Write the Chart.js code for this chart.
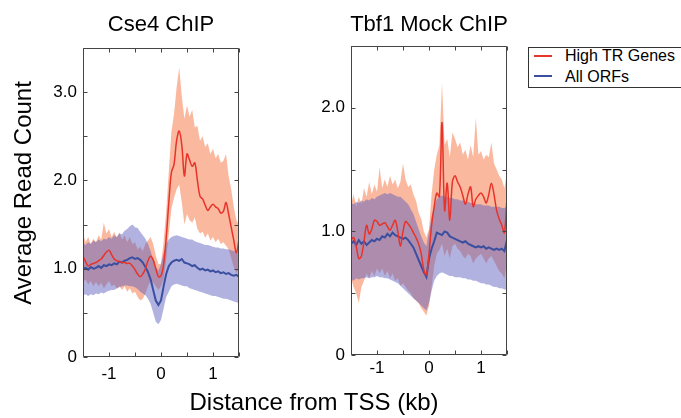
<!DOCTYPE html>
<html>
<head>
<meta charset="utf-8">
<script src="https://cdn.jsdelivr.net/npm/chart.js@4/dist/chart.umd.min.js"></script>
<style>
  html, body { margin: 0; padding: 0; background: #fff; }
  body { width: 681px; height: 418px; position: relative; overflow: hidden; font-family: "Liberation Sans", Arial, sans-serif; color: #000; }
  .box { position: absolute; }
  .txt { position: absolute; white-space: nowrap; }
  .title { font-size: 22px; line-height: 22px; text-align: center; width: 240px; }
  .axis { font-size: 24px; line-height: 24px; text-align: center; }
  #legend { position: absolute; left: 528px; top: 47px; width: 170px; height: 39px; border: 1px solid #333; }
  .sw { position: absolute; left: 5px; width: 18px; height: 0; border-top: 2px solid; }
  .lt { position: absolute; left: 36px; font-size: 16px; line-height: 16px; }
</style>
</head>
<body>
<div class="box" style="left:0;top:0;width:250px;height:390px;"><canvas id="cse4"></canvas></div>
<div class="box" style="left:260px;top:0;width:260px;height:390px;"><canvas id="tbf1"></canvas></div>

<div class="txt title" style="left:41px;top:13px;">Cse4 ChIP</div>
<div class="txt title" style="left:309px;top:13px;">Tbf1 Mock ChIP</div>
<div class="txt axis" style="left:-127px;top:181px;width:300px;transform:rotate(-90deg);">Average Read Count</div>
<div class="txt axis" style="left:114px;top:390px;width:400px;">Distance from TSS (kb)</div>
<div id="legend">
  <div class="sw" style="top:7px;border-color:#e8332b;"></div>
  <div class="lt" style="top:0px;">High TR Genes</div>
  <div class="sw" style="top:27px;border-color:#3a4fa0;"></div>
  <div class="lt" style="top:21px;">All ORFs</div>
</div>

<script>
// distance from TSS (kb)
const distKb = [-1.5,-1.45,-1.4,-1.35,-1.3,-1.25,-1.2,-1.15,-1.1,-1.05,-1.0,-0.95,-0.9,-0.85,-0.8,-0.75,-0.7,-0.65,-0.6,-0.55,-0.5,-0.45,-0.4,-0.35,-0.3,-0.25,-0.2,-0.15,-0.1,-0.05,
  0.0,0.05,0.1,0.15,0.2,0.25,0.3,0.35,0.4,0.45,0.5,0.55,0.6,0.65,0.7,0.75,0.8,0.85,0.9,0.95,1.0,1.05,1.1,1.15,1.2,1.25,1.3,1.35,1.4,1.45,1.5];

// Cse4 ChIP
const cse4HighTR = [1.14,1.08,1.03,1.05,1.06,1.07,1.09,1.11,1.15,1.19,1.21,1.16,1.11,1.09,1.08,1.07,1.07,1.06,1.06,1.03,0.99,0.94,0.91,0.94,1.00,1.09,1.14,1.10,1.00,0.91,
  0.92,1.05,1.35,1.75,2.09,2.18,2.45,2.56,2.40,2.05,2.30,2.23,2.16,2.20,2.00,1.82,1.79,1.72,1.66,1.70,1.73,1.70,1.68,1.63,1.65,1.75,1.62,1.47,1.32,1.18,1.33];
const cse4HighTRUp = [1.40,1.30,1.36,1.28,1.34,1.30,1.38,1.33,1.52,1.40,1.45,1.36,1.42,1.35,1.41,1.33,1.38,1.30,1.36,1.28,1.30,1.22,1.25,1.20,1.28,1.32,1.36,1.28,1.15,1.05,
  1.06,1.30,1.65,2.10,2.55,2.75,3.05,3.28,2.95,2.70,2.85,2.72,2.80,2.60,2.62,2.45,2.50,2.38,2.42,2.30,2.36,2.25,2.30,2.20,2.22,2.30,2.05,1.90,1.70,1.55,1.50];
const cse4HighTRLo = [0.84,0.88,0.82,0.86,0.80,0.85,0.80,0.84,0.78,0.82,0.86,0.80,0.82,0.77,0.80,0.76,0.80,0.74,0.78,0.72,0.74,0.68,0.64,0.66,0.72,0.80,0.86,0.84,0.80,0.76,
  0.80,0.88,1.10,1.40,1.68,1.80,1.90,1.95,1.75,1.50,1.62,1.55,1.52,1.58,1.45,1.40,1.42,1.35,1.40,1.32,1.36,1.30,1.34,1.28,1.30,1.26,1.22,1.12,1.02,0.95,1.00];
const cse4AllORF = [1.00,1.01,0.99,1.02,1.00,1.01,1.03,1.01,1.04,1.03,1.05,1.04,1.06,1.05,1.08,1.07,1.09,1.10,1.12,1.13,1.11,1.12,1.10,1.07,1.02,0.96,0.88,0.76,0.64,0.59,
  0.64,0.80,0.94,1.03,1.07,1.09,1.10,1.09,1.11,1.07,1.06,1.05,1.03,1.04,1.01,0.99,1.00,0.98,0.99,0.97,0.98,0.96,0.97,0.95,0.96,0.94,0.95,0.93,0.92,0.93,0.91];
const cse4AllORFUp = [1.29,1.27,1.30,1.28,1.32,1.30,1.33,1.31,1.34,1.33,1.36,1.34,1.38,1.36,1.40,1.39,1.43,1.45,1.48,1.50,1.47,1.46,1.42,1.38,1.34,1.28,1.20,1.10,1.02,0.98,
  1.05,1.18,1.28,1.33,1.36,1.37,1.38,1.37,1.36,1.35,1.34,1.33,1.33,1.31,1.30,1.29,1.28,1.27,1.27,1.26,1.25,1.24,1.24,1.23,1.23,1.22,1.22,1.21,1.20,1.19,1.18];
const cse4AllORFLo = [0.70,0.71,0.69,0.71,0.70,0.72,0.71,0.73,0.72,0.74,0.75,0.76,0.76,0.78,0.79,0.80,0.81,0.81,0.80,0.80,0.79,0.77,0.74,0.72,0.70,0.66,0.60,0.50,0.40,0.37,
  0.42,0.55,0.68,0.74,0.80,0.82,0.83,0.82,0.81,0.80,0.80,0.78,0.77,0.76,0.75,0.74,0.73,0.72,0.71,0.70,0.69,0.69,0.68,0.67,0.66,0.66,0.65,0.64,0.63,0.62,0.61];

// Tbf1 Mock ChIP
const tbf1HighTR = [0.93,0.95,0.88,0.78,0.80,0.92,1.05,0.98,1.02,1.09,1.08,1.05,1.06,1.07,1.04,1.01,1.05,1.09,1.00,0.88,1.00,1.08,1.06,1.03,0.99,0.95,0.90,0.82,0.69,0.65,
  0.82,1.05,1.20,1.31,1.28,1.88,1.17,1.39,1.09,1.40,1.45,1.40,1.36,1.29,1.22,1.30,1.36,1.20,1.26,1.29,1.31,1.28,1.23,1.30,1.39,1.30,1.17,1.10,1.05,0.99,1.27];
const tbf1HighTRUp = [1.22,1.30,1.20,1.28,1.22,1.35,1.28,1.40,1.30,1.38,1.32,1.52,1.35,1.42,1.36,1.45,1.38,1.42,1.35,1.40,1.55,1.42,1.36,1.38,1.30,1.25,1.15,1.10,1.00,0.95,
  1.02,1.30,1.50,1.62,1.70,2.20,1.70,1.75,1.60,1.80,1.75,1.68,1.72,1.62,1.66,1.58,1.70,1.60,1.92,1.62,1.65,1.58,1.62,1.60,1.72,1.55,1.50,1.45,1.42,1.35,1.48];
const tbf1HighTRLo = [0.62,0.55,0.50,0.42,0.55,0.60,0.66,0.62,0.68,0.64,0.70,0.66,0.70,0.64,0.68,0.62,0.66,0.60,0.62,0.56,0.58,0.55,0.52,0.50,0.46,0.44,0.42,0.38,0.35,0.32,
  0.40,0.55,0.72,0.82,0.85,0.90,0.80,0.86,0.78,0.88,0.90,0.86,0.84,0.80,0.78,0.82,0.80,0.74,0.78,0.80,0.82,0.78,0.74,0.78,0.80,0.76,0.72,0.68,0.66,0.62,0.75];
const tbf1AllORF = [0.90,0.92,0.89,0.93,0.90,0.92,0.89,0.91,0.93,0.92,0.94,0.93,0.96,0.95,0.98,0.96,0.99,0.97,0.96,0.95,0.94,0.95,0.93,0.90,0.87,0.82,0.77,0.72,0.67,0.63,
  0.78,0.86,0.92,0.99,0.98,0.97,1.00,0.99,0.96,0.95,0.94,0.93,0.92,0.91,0.92,0.90,0.89,0.88,0.87,0.88,0.87,0.88,0.86,0.87,0.86,0.85,0.86,0.85,0.86,0.84,0.93];
const tbf1AllORFUp = [1.23,1.22,1.24,1.23,1.25,1.24,1.26,1.25,1.27,1.26,1.28,1.29,1.30,1.31,1.30,1.31,1.30,1.29,1.28,1.28,1.26,1.24,1.22,1.18,1.14,1.08,1.02,0.96,0.91,0.88,
  1.00,1.12,1.20,1.26,1.28,1.29,1.28,1.28,1.27,1.27,1.26,1.26,1.25,1.25,1.24,1.24,1.23,1.23,1.22,1.22,1.22,1.21,1.21,1.21,1.20,1.20,1.20,1.20,1.19,1.19,1.20];
const tbf1AllORFLo = [0.61,0.60,0.62,0.61,0.62,0.62,0.63,0.62,0.63,0.63,0.64,0.63,0.63,0.62,0.62,0.61,0.60,0.59,0.58,0.56,0.54,0.52,0.50,0.48,0.46,0.44,0.42,0.40,0.38,0.36,
  0.42,0.52,0.60,0.64,0.66,0.67,0.66,0.65,0.64,0.64,0.63,0.63,0.63,0.62,0.62,0.61,0.61,0.60,0.60,0.59,0.58,0.58,0.57,0.57,0.56,0.55,0.55,0.54,0.54,0.53,0.53];

const xTickStep = 0.5;
const yTickStep = 0.5;

const RED = '#e8332b';
const BLUE = '#3a4fa0';
const RED_BAND = 'rgba(245,125,80,0.55)';
const BLUE_BAND = 'rgba(90,92,190,0.47)';

Chart.defaults.font.family = '"Liberation Sans", Arial, sans-serif';
Chart.defaults.color = '#000';

const pts = (ys) => distKb.map((x, i) => ({ x: x, y: ys[i] }));

// box round the plot with inward ticks on all four sides
const frameTicks = {
  id: 'frameTicks',
  afterDatasetsDraw(chart) {
    const { ctx, chartArea: a, scales } = chart;
    const L = Math.round(a.left) + 0.5, R = Math.round(a.right) - 0.5;
    const T = Math.round(a.top) + 0.5, B = Math.round(a.bottom) - 0.5;
    ctx.save();
    ctx.strokeStyle = '#444';
    ctx.lineWidth = 1;
    ctx.beginPath();
    scales.x.ticks.forEach(t => {
      const px = Math.round(scales.x.getPixelForValue(t.value)) + 0.5;
      ctx.moveTo(px, B); ctx.lineTo(px, B - 4);
      ctx.moveTo(px, T); ctx.lineTo(px, T + 4);
    });
    scales.y.ticks.forEach(t => {
      const py = Math.round(scales.y.getPixelForValue(t.value)) + 0.5;
      ctx.moveTo(L, py); ctx.lineTo(L + 4, py);
      ctx.moveTo(R, py); ctx.lineTo(R - 4, py);
    });
    ctx.rect(L, T, R - L, B - T);
    ctx.stroke();
    ctx.restore();
  }
};

function makePanel(id, yMax, highTR, highUp, highLo, allORF, allUp, allLo, pad, yWidth, xHeight, xPad) {
  return new Chart(document.getElementById(id), {
    type: 'line',
    data: {
      datasets: [
        { label: 'High TR Genes', data: pts(highTR), borderColor: RED, borderWidth: 1.5, pointRadius: 0, tension: 0.35, fill: false, order: 0 },
        { label: 'All ORFs', data: pts(allORF), borderColor: BLUE, borderWidth: 2, pointRadius: 0, tension: 0, fill: false, order: 0 },
        { data: pts(allUp), borderWidth: 0, pointRadius: 0, backgroundColor: BLUE_BAND, fill: '+1', order: 1 },
        { data: pts(allLo), borderWidth: 0, pointRadius: 0, fill: false, order: 1 },
        { data: pts(highUp), borderWidth: 0, pointRadius: 0, backgroundColor: RED_BAND, fill: '+1', order: 2 },
        { data: pts(highLo), borderWidth: 0, pointRadius: 0, fill: false, order: 2 }
      ]
    },
    options: {
      responsive: true,
      maintainAspectRatio: false,
      animation: false,
      layout: { padding: pad },
      plugins: { legend: { display: false }, tooltip: { enabled: false } },
      scales: {
        x: {
          type: 'linear',
          min: -1.5,
          max: 1.5,
          grid: { display: false, drawTicks: false },
          border: { display: false },
          afterFit: (s) => { s.height = xHeight; },
          ticks: {
            stepSize: xTickStep,
            autoSkip: false,
            maxRotation: 0,
            padding: xPad,
            font: { size: 17 },
            callback: (v) => Number.isInteger(v) ? String(v) : ''
          }
        },
        y: {
          min: 0,
          max: yMax,
          grid: { display: false, drawTicks: false },
          border: { display: false },
          afterFit: (s) => { s.width = yWidth; },
          ticks: {
            stepSize: yTickStep,
            autoSkip: false,
            padding: 6,
            font: { size: 17 },
            callback: (v) => v === 0 ? '0' : (Number.isInteger(v) ? v.toFixed(1) : '')
          }
        }
      }
    },
    plugins: [frameTicks]
  });
}

makePanel('cse4', 3.5, cse4HighTR, cse4HighTRUp, cse4HighTRLo, cse4AllORF, cse4AllORFUp, cse4AllORFLo,
  { top: 48, right: 11, bottom: 0, left: 0 }, 83, 33, 7);
makePanel('tbf1', 2.5, tbf1HighTR, tbf1HighTRUp, tbf1HighTRLo, tbf1AllORF, tbf1AllORFUp, tbf1AllORFLo,
  { top: 46, right: 13, bottom: 0, left: 0 }, 91, 35, 3);
</script>
</body>
</html>
